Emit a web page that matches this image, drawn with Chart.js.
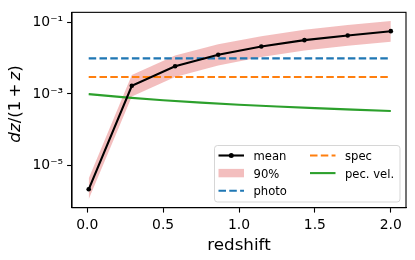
<!DOCTYPE html>
<html>
<head>
<meta charset="utf-8">
<script src="https://cdn.jsdelivr.net/npm/chart.js@4/dist/chart.umd.min.js"></script>
<style>
    html, body { margin: 0; padding: 0; background: #ffffff; }
    #contenedor { width: 415px; height: 260px; }
</style>
</head>
<body>
<div id="contenedor"><canvas id="graficaRedshift" width="415" height="260"></canvas></div>
<script>
// Datos
const redshiftMedia = [0.01, 0.294, 0.579, 0.863, 1.147, 1.431, 1.716, 2.0];
const media = [2.1e-6, 1.7e-3, 6.0e-3, 1.26e-2, 2.15e-2, 3.25e-2, 4.4e-2, 5.8e-2];
const banda90Superior = [4.2e-6, 3.4e-3, 1.2e-2, 2.5e-2, 4.2e-2, 6.4e-2, 8.6e-2, 0.112];
const banda90Inferior = [1.1e-6, 8.5e-4, 3.0e-3, 6.3e-3, 1.1e-2, 1.65e-2, 2.25e-2, 2.95e-2];

const redshiftConstantes = [0.01, 2.0];
const photo = [1.0e-2, 1.0e-2];
const spec = [3.0e-3, 3.0e-3];

const redshiftPecVel = [0.01, 0.25, 0.5, 0.75, 1.0, 1.25, 1.5, 1.75, 2.0];
const pecVel = [9.9e-4, 8.0e-4, 6.67e-4, 5.71e-4, 5.0e-4, 4.44e-4, 4.0e-4, 3.64e-4, 3.33e-4];

const ticksX = [0.0, 0.5, 1.0, 1.5, 2.0];
const etiquetasX = ['0.0', '0.5', '1.0', '1.5', '2.0'];
const ticksY = [1e-5, 1e-3, 1e-1];
const etiquetasY = ['10⁻⁵', '10⁻³', '10⁻¹'];

const etiquetasLeyenda = ['mean', '90%', 'photo', 'spec', 'pec. vel.'];

const FUENTE = 'DejaVu Sans';

function puntos(xs, ys) {
    return xs.map((x, i) => ({ x: x, y: ys[i] }));
}

// marco, titulos de los ejes y leyenda al estilo matplotlib
const pluginExtras = {
    id: 'extras',
    afterDraw(chart) {
        const { ctx, chartArea: a } = chart;
        ctx.save();
        ctx.strokeStyle = '#000000';
        ctx.lineWidth = 1.1;
        ctx.strokeRect(a.left, a.top, a.right - a.left, a.bottom - a.top);

        // titulo eje x
        ctx.fillStyle = '#000000';
        ctx.font = '16.7px "' + FUENTE + '"';
        ctx.textAlign = 'center';
        ctx.textBaseline = 'alphabetic';
        ctx.fillText('redshift', (a.left + a.right) / 2, 249.5);

        // titulo eje y: dz/(1 + z)
        const partes = [
            ['d', true, 0], ['z', true, 0], ['/(1', false, 0],
            ['+', false, 3], ['z', true, 3], [')', false, 0]
        ];
        const tam = 16.7;
        let total = 0;
        partes.forEach(p => {
            ctx.font = (p[1] ? 'italic ' : '') + tam + 'px "' + FUENTE + '"';
            total += ctx.measureText(p[0]).width + p[2];
        });
        ctx.translate(20, 104);
        ctx.rotate(-Math.PI / 2);
        ctx.textAlign = 'left';
        let pos = -total / 2;
        partes.forEach(p => {
            ctx.font = (p[1] ? 'italic ' : '') + tam + 'px "' + FUENTE + '"';
            pos += p[2];
            ctx.fillText(p[0], pos, 0);
            pos += ctx.measureText(p[0]).width;
        });
        ctx.setTransform(1, 0, 0, 1, 0, 0);

        // leyenda
        const ds = chart.data.datasets;
        ctx.beginPath();
        ctx.roundRect(214.5, 145.5, 185.5, 56.5, 3);
        ctx.fillStyle = 'rgba(255,255,255,0.8)';
        ctx.fill();
        ctx.strokeStyle = 'rgba(204,204,204,0.8)';
        ctx.lineWidth = 1;
        ctx.stroke();

        const entradas = [
            { ds: ds[0], tipo: 'linea', punto: true, x: 218.5, y: 160 },
            { ds: ds[1], tipo: 'parche', x: 218.5, y: 177.6 },
            { ds: ds[3], tipo: 'linea', x: 218.5, y: 195.2 },
            { ds: ds[4], tipo: 'linea', x: 310, y: 160 },
            { ds: ds[5], tipo: 'linea', x: 310, y: 177.6 }
        ];
        ctx.font = '11.6px "' + FUENTE + '"';
        entradas.forEach((e, i) => {
            const yc = e.y - 4.5;
            if (e.tipo === 'parche') {
                ctx.fillStyle = e.ds.backgroundColor;
                ctx.fillRect(e.x, yc - 4.2, 25.5, 8.4);
            } else {
                ctx.strokeStyle = e.ds.borderColor;
                ctx.lineWidth = e.ds.borderWidth;
                ctx.setLineDash(e.ds.borderDash || []);
                ctx.beginPath();
                ctx.moveTo(e.x, yc);
                ctx.lineTo(e.x + 25.5, yc);
                ctx.stroke();
                ctx.setLineDash([]);
                if (e.punto) {
                    ctx.fillStyle = e.ds.borderColor;
                    ctx.beginPath();
                    ctx.arc(e.x + 12.75, yc, 2.5, 0, Math.PI * 2);
                    ctx.fill();
                }
            }
            ctx.fillStyle = '#000000';
            ctx.textAlign = 'left';
            ctx.textBaseline = 'alphabetic';
            ctx.fillText(etiquetasLeyenda[i], e.x + 35, e.y);
        });
        ctx.restore();
    }
};

const ctx = document.getElementById('graficaRedshift').getContext('2d');
new Chart(ctx, {
    type: 'line',
    data: {
        datasets: [
            {
                label: 'mean',
                data: puntos(redshiftMedia, media),
                borderColor: '#000000',
                backgroundColor: '#000000',
                borderWidth: 2.1,
                pointRadius: 2.3,
                pointBorderWidth: 0,
                fill: false,
                order: 0
            },
            {
                label: '90%',
                data: puntos(redshiftMedia, banda90Superior),
                borderWidth: 0,
                borderColor: 'rgba(0,0,0,0)',
                backgroundColor: 'rgba(214,39,40,0.3)',
                pointRadius: 0,
                fill: '+1',
                order: 9
            },
            {
                label: '90% inferior',
                data: puntos(redshiftMedia, banda90Inferior),
                borderWidth: 0,
                borderColor: 'rgba(0,0,0,0)',
                pointRadius: 0,
                fill: false,
                order: 10
            },
            {
                label: 'photo',
                data: puntos(redshiftConstantes, photo),
                borderColor: '#1f77b4',
                borderWidth: 2.1,
                borderDash: [7.5, 3.3],
                pointRadius: 0,
                fill: false,
                order: 1
            },
            {
                label: 'spec',
                data: puntos(redshiftConstantes, spec),
                borderColor: '#ff7f0e',
                borderWidth: 2.1,
                borderDash: [7.5, 3.3],
                pointRadius: 0,
                fill: false,
                order: 2
            },
            {
                label: 'pec. vel.',
                data: puntos(redshiftPecVel, pecVel),
                borderColor: '#2ca02c',
                borderWidth: 2.1,
                pointRadius: 0,
                fill: false,
                order: 3
            }
        ]
    },
    options: {
        responsive: false,
        devicePixelRatio: 1,
        animation: false,
        layout: {
            padding: { left: 0, right: 9, top: 8.4, bottom: 0 }
        },
        scales: {
            x: {
                type: 'linear',
                min: -0.1,
                max: 2.1,
                afterBuildTicks: (escala) => {
                    escala.ticks = ticksX.map(v => ({ value: v }));
                },
                afterFit: (escala) => { escala.height = 52.3; },
                ticks: {
                    color: '#000000',
                    font: { family: FUENTE, size: 13.9 },
                    padding: 4.5,
                    maxRotation: 0,
                    autoSkip: false,
                    callback: (valor, i) => etiquetasX[i]
                },
                grid: {
                    drawOnChartArea: false,
                    drawTicks: true,
                    tickLength: 4.9,
                    tickColor: '#000000',
                    tickWidth: 1.1
                },
                border: { display: true, color: '#000000', width: 1.1 }
            },
            y: {
                type: 'logarithmic',
                min: 6.4e-7,
                max: 0.196,
                afterBuildTicks: (escala) => {
                    escala.ticks = ticksY.map(v => ({ value: v }));
                },
                afterFit: (escala) => { escala.width = 72; },
                ticks: {
                    color: '#000000',
                    font: { family: FUENTE, size: 13.9 },
                    padding: 4,
                    autoSkip: false,
                    callback: (valor, i) => etiquetasY[i]
                },
                grid: {
                    drawOnChartArea: false,
                    drawTicks: true,
                    tickLength: 4.9,
                    tickColor: '#000000',
                    tickWidth: 1.1
                },
                border: { display: true, color: '#000000', width: 1.1 }
            }
        },
        plugins: {
            legend: { display: false },
            tooltip: { enabled: false }
        }
    },
    plugins: [pluginExtras]
});
</script>
</body>
</html>
